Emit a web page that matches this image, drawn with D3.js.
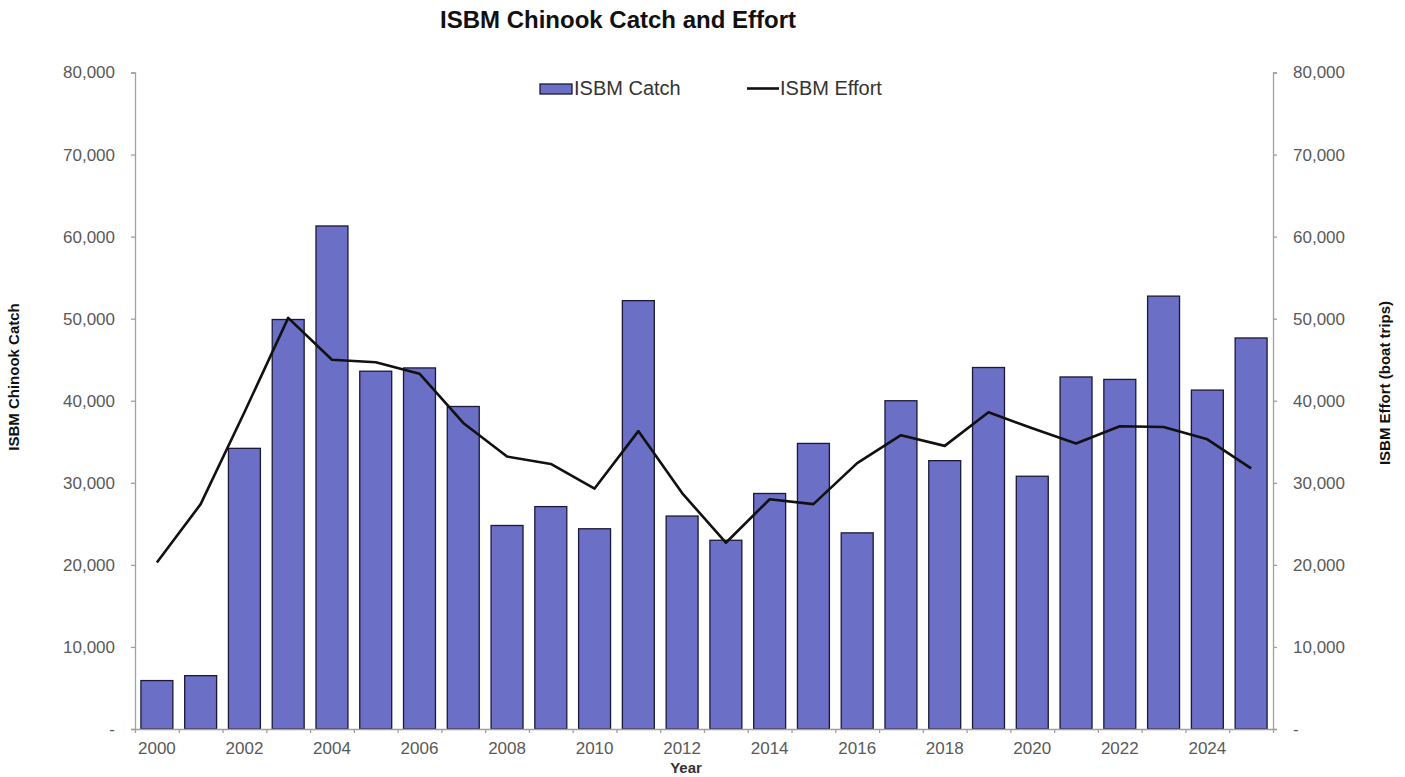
<!DOCTYPE html>
<html><head><meta charset="utf-8">
<script src="https://cdn.jsdelivr.net/npm/d3@7"></script>
<style>body{margin:0;background:#fff;} text{font-family:"Liberation Sans",Arial,sans-serif;}</style>
</head><body>
<svg id="chart" width="1405" height="777"></svg>
<script>
const years = [2000,2001,2002,2003,2004,2005,2006,2007,2008,2009,2010,2011,2012,2013,2014,2015,2016,2017,2018,2019,2020,2021,2022,2023,2024,2025];
const catchValues = [5900,6500,34200,49900,61300,43600,44000,39300,24800,27100,24400,52200,25950,23000,28700,34800,23900,40000,32700,44050,30800,42900,42600,52750,41300,47650];
const effortValues = [20300,27400,38600,50100,45000,44700,43300,37300,33200,32300,29300,36300,28750,22700,28000,27400,32400,35800,34500,38600,36650,34800,36900,36800,35300,31750];
const yTicks = [0,10000,20000,30000,40000,50000,60000,70000,80000];
const xTickLabels = [2000,2002,2004,2006,2008,2010,2012,2014,2016,2018,2020,2022,2024];

const svg = d3.select("#chart");
const L = 135, R = 1273, T = 72.5, B = 729;
const x = d3.scaleBand().domain(years).range([L, R]).paddingInner(0.27).paddingOuter(0.135);
const y = d3.scaleLinear().domain([0, 80000]).range([B, T]);
const y2 = d3.scaleLinear().domain([0, 80000]).range([B, T]);
const fmt = v => v === 0 ? "-" : d3.format(",")(v);
const axisColor = "#a0a0a0", textColor = "#595959";

// Title
svg.append("text").attr("x", 618).attr("y", 28).attr("text-anchor", "middle")
  .attr("font-size", 24).attr("font-weight", "bold").attr("fill", "#111")
  .text("ISBM Chinook Catch and Effort");

// Bars
svg.append("g").selectAll("rect").data(years).join("rect")
  .attr("x", d => x(d)).attr("width", x.bandwidth())
  .attr("y", (d,i) => y(catchValues[i])).attr("height", (d,i) => B - y(catchValues[i]))
  .attr("fill", "#6b6fc5").attr("stroke", "#1a1a38").attr("stroke-width", 1.3);

// Line
const line = d3.line().x((d,i) => x(years[i]) + x.bandwidth()/2).y(d => y2(d));
svg.append("path").datum(effortValues).attr("d", line)
  .attr("fill", "none").attr("stroke", "#111").attr("stroke-width", 2.6).attr("stroke-linejoin", "round");

// Left axis
const gl = svg.append("g").attr("transform", `translate(${L},0)`)
  .call(d3.axisLeft(y).tickValues(yTicks).tickFormat(fmt).tickSize(4).tickPadding(16));
// Right axis
const gr = svg.append("g").attr("transform", `translate(${R},0)`)
  .call(d3.axisRight(y2).tickValues(yTicks).tickFormat(fmt).tickSize(4).tickPadding(16));
// Bottom axis
const xb = d3.scaleLinear().domain([0, years.length]).range([L, R]);
const gb = svg.append("g").attr("transform", `translate(0,${B})`)
  .call(d3.axisBottom(xb).tickValues(d3.range(0, years.length + 1)).tickFormat("").tickSize(4).tickSizeOuter(0));
const gbl = svg.append("g").attr("transform", `translate(0,${B})`)
  .call(d3.axisBottom(x).tickValues(xTickLabels).tickSize(0).tickPadding(13));
gbl.select(".domain").remove();

[gl, gr, gb].forEach(g => {
  g.select(".domain").attr("stroke", axisColor).attr("stroke-width", 1.3);
  g.selectAll(".tick line").attr("stroke", axisColor).attr("stroke-width", 1.3);
});
[gl, gr, gbl].forEach(g => {
  g.selectAll(".tick text").attr("fill", textColor).attr("font-size", 17)
    .attr("font-family", "'Liberation Sans', Arial, sans-serif");
});

// Axis titles
svg.append("text").attr("transform", "translate(19,377) rotate(-90)").attr("text-anchor", "middle")
  .attr("font-size", 15).attr("font-weight", "bold").attr("fill", "#111").text("ISBM Chinook Catch");
svg.append("text").attr("transform", "translate(1390,383) rotate(-90)").attr("text-anchor", "middle")
  .attr("font-size", 15).attr("font-weight", "bold").attr("fill", "#111").text("ISBM Effort (boat trips)");
svg.append("text").attr("x", 686).attr("y", 773).attr("text-anchor", "middle")
  .attr("font-size", 15).attr("font-weight", "bold").attr("fill", "#333").text("Year");

// Legend
const lg = svg.append("g");
lg.append("rect").attr("x", 540).attr("y", 84).attr("width", 32).attr("height", 10)
  .attr("fill", "#6b6fc5").attr("stroke", "#1a1a38").attr("stroke-width", 1.3);
lg.append("text").attr("x", 574).attr("y", 95).attr("font-size", 20).attr("fill", "#333").text("ISBM Catch");
lg.append("line").attr("x1", 747).attr("x2", 779).attr("y1", 88.5).attr("y2", 88.5)
  .attr("stroke", "#111").attr("stroke-width", 2.6);
lg.append("text").attr("x", 780).attr("y", 95).attr("font-size", 20).attr("fill", "#333").text("ISBM Effort");
</script>
</body></html>
